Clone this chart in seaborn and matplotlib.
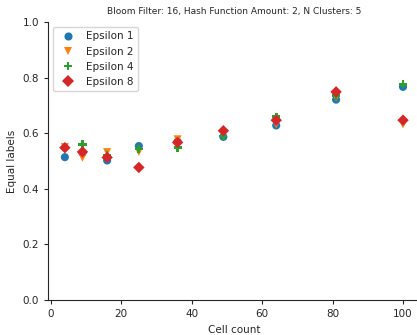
import numpy as np
import pandas as pd
import matplotlib
matplotlib.use("Agg")
import matplotlib.pyplot as plt
import seaborn as sns

# cell counts (x) and equal-label share per epsilon
cell_count = [4, 9, 16, 25, 36, 49, 64, 81, 100]
eps1 = [0.514, 0.530, 0.502, 0.554, 0.570, 0.587, 0.628, 0.721, 0.767]
eps2 = [0.550, 0.512, 0.532, 0.533, 0.578, 0.600, 0.632, 0.728, 0.632]
eps4 = [0.550, 0.560, 0.520, 0.543, 0.548, 0.590, 0.660, 0.735, 0.776]
eps8 = [0.548, 0.533, 0.513, 0.477, 0.567, 0.609, 0.647, 0.749, 0.647]
labels = ["Epsilon 1", "Epsilon 2", "Epsilon 4", "Epsilon 8"]

df = pd.DataFrame({
    "Cell count": cell_count * 4,
    "Equal labels": eps1 + eps2 + eps4 + eps8,
    "eps": np.repeat(labels, len(cell_count)),
})

sns.set_style("ticks")
plt.rcParams["font.family"] = ["DejaVu Sans"]

fig = plt.figure(figsize=(4.17, 3.35), dpi=100)
ax = fig.add_axes([0.115, 0.1045, 0.892, 0.8295])

sns.scatterplot(data=df, x="Cell count", y="Equal labels", hue="eps", style="eps",
                markers=["o", "v", "P", "D"], palette="tab10", s=34,
                linewidth=0, ax=ax)

ax.set_ylim(0, 1)
ax.set_title("Bloom Filter: 16, Hash Function Amount: 2, N Clusters: 5", fontsize=6.5)
ax.set_xlabel("Cell count", fontsize=7.5)
ax.set_ylabel("Equal labels", fontsize=7.5)
ax.tick_params(labelsize=7.5, length=3)
ax.legend(title=None, loc="upper left", fontsize=7.5, markerscale=1.0)
sns.despine(ax=ax)

fig.savefig("out.png", dpi=100)
